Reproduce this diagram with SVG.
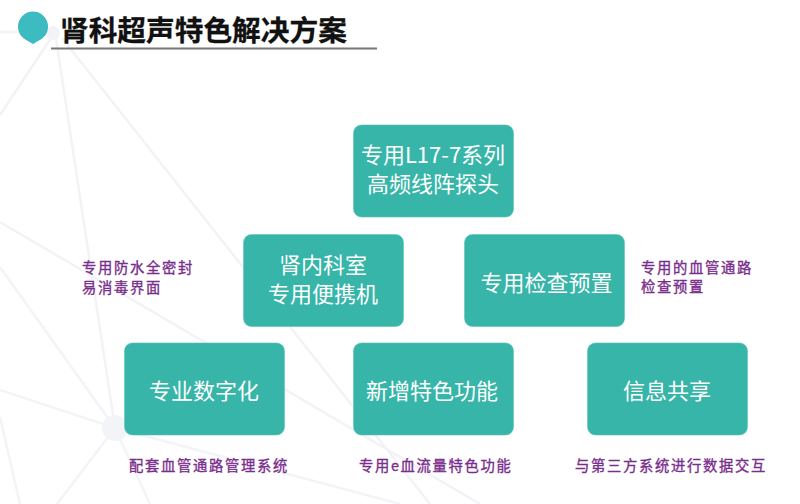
<svg xmlns="http://www.w3.org/2000/svg" width="800" height="504" viewBox="0 0 800 504">
<style>
text{font-family:"Noto Sans CJK SC","Noto Sans",sans-serif}
.bg{stroke:#f3f2f7;stroke-width:2.5;fill:none}
.box{fill:#36b5a8;stroke:#5cc4b9;stroke-width:.6}
.t{fill:#fff;font-size:22px;text-anchor:middle}
.n{fill:#7a2e8c;font-size:14.300px;letter-spacing:1.700px;stroke:#7a2e8c;stroke-width:.35}
</style>
<rect width="800" height="504" fill="#fff"/>
<g id="background" class="bg">
<path d="M0 32H55M55 32L0 115M55 32L115 428M62 38L430 504M0 222L480 504"/>
<path stroke="#f3f4f7" d="M115 428L0 267M115 428L0 390M115 428L57 504M115 428L150 504M115 428L400 504M0 417L20 504"/>
<circle cx="115" cy="428" r="13" fill="#f3f4f7" stroke="none"/>
<circle cx="53" cy="33" r="7" fill="#f3f2f7" stroke="none"/>
</g>
<g id="title">
<path d="M33 44L27 40.500C21 37 18 33 18 26.500A15 15 0 0 1 48 26.500C48 33 45 37 39 40.500Z" fill="#3cbcc1"/>
<text x="60" y="41" font-size="28.700" font-weight="700" fill="#111" stroke="#111" stroke-width=".3">肾科超声特色解决方案</text>
<rect x="51" y="47.500" width="326" height="2" fill="#777"/>
</g>
<g id="connectors"></g>
<g id="n1"><rect class="box" x="353.500" y="125" width="160" height="92" rx="8"/><text class="t" x="433" y="163">专用L17-7系列</text><text class="t" x="433" y="192">高频线阵探头</text></g>
<g id="n2"><rect class="box" x="243.500" y="234.500" width="160" height="92" rx="8"/><text class="t" x="323" y="273">肾内科室</text><text class="t" x="323" y="302">专用便携机</text></g>
<g id="n3"><rect class="box" x="464.500" y="234.500" width="160" height="92" rx="8"/><text class="t" x="546.500" y="291">专用检查预置</text></g>
<g id="n4"><rect class="box" x="124.500" y="343" width="160" height="92" rx="8"/><text class="t" x="204" y="399">专业数字化</text></g>
<g id="n5"><rect class="box" x="353.500" y="343" width="160" height="92" rx="8"/><text class="t" x="432" y="399">新增特色功能</text></g>
<g id="n6"><rect class="box" x="587.500" y="343" width="160" height="92" rx="8"/><text class="t" x="667" y="399">信息共享</text></g>
<g id="notes">
<text class="n" x="82" y="273">专用防水全密封</text>
<text class="n" x="82" y="293">易消毒界面</text>
<text class="n" x="641" y="273">专用的血管通路</text>
<text class="n" x="641" y="292">检查预置</text>
<text class="n" x="129" y="471">配套血管通路管理系统</text>
<text class="n" x="359" y="471">专用e血流量特色功能</text>
<text class="n" x="575" y="471">与第三方系统进行数据交互</text>
</g>
</svg>
